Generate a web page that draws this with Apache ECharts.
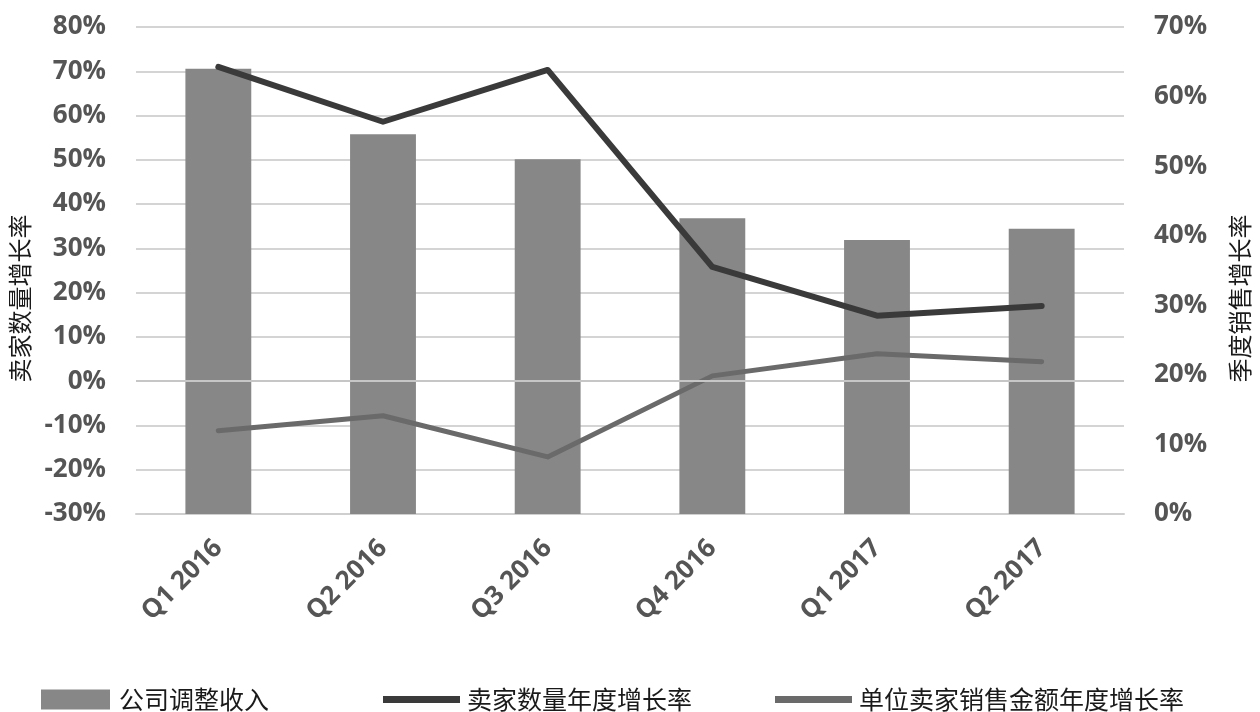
<!DOCTYPE html>
<html>
<head>
<meta charset="utf-8">
<script src="https://cdn.jsdelivr.net/npm/echarts@6/dist/echarts.min.js"></script>
<style>
html,body{margin:0;padding:0;background:#fff;}
#chart{width:1260px;height:712px;}
</style>
</head>
<body>
<div id="chart"></div>
<script>
const categories = ['Q1 2016','Q2 2016','Q3 2016','Q4 2016','Q1 2017','Q2 2017'];
const revenueGrowth = [64.0, 54.6, 51.0, 42.5, 39.4, 41.0];        // 公司调整收入 (right axis)
const sellerGrowth = [71.0, 58.6, 70.3, 25.8, 14.8, 17.0];         // 卖家数量年度增长率 (left axis)
const perSellerGrowth = [-11.2, -7.8, -17.1, 1.2, 6.2, 4.4];       // 单位卖家销售金额年度增长率 (left axis)
const leftTicks = {min: -30, max: 80, interval: 10};
const rightTicks = {min: 0, max: 70, interval: 10};
const seriesNames = ['公司调整收入','卖家数量年度增长率','单位卖家销售金额年度增长率'];

const numFont = {fontFamily: 'Open Sans', fontWeight: 'bold', fontSize: 26, color: '#555555'};
const cjkFont = {fontFamily: 'Noto Sans CJK SC', fontSize: 24, color: '#1a1a1a'};
const linePath = 'path://M0,0 L76,0 L76,7 L0,7 Z';

const chart = echarts.init(document.getElementById('chart'), null, {renderer: 'canvas'});
chart.setOption({
  animation: false,
  backgroundColor: '#ffffff',
  grid: {left: 133, right: 135, top: 27, bottom: 198, containLabel: false},
  legend: [
    {left: 36, top: 682, itemWidth: 69, itemHeight: 20, itemGap: 0,
     textStyle: Object.assign({}, cjkFont, {fontSize: 25, padding: [0,0,0,4]}),
     data: [{name: seriesNames[0], icon: 'rect'}]},
    {left: 378, top: 682, itemWidth: 77, itemHeight: 20, itemGap: 0,
     textStyle: Object.assign({}, cjkFont, {fontSize: 25, padding: [0,0,0,2]}),
     data: [{name: seriesNames[1], icon: linePath}]},
    {left: 770, top: 682, itemWidth: 77, itemHeight: 20, itemGap: 0,
     textStyle: Object.assign({}, cjkFont, {fontSize: 25, padding: [0,0,0,2]}),
     data: [{name: seriesNames[2], icon: linePath}]}
  ],
  xAxis: {
    type: 'category',
    data: categories,
    axisLine: {onZero: false, lineStyle: {color: '#cfcfcf', width: 2}},
    axisTick: {show: false},
    axisLabel: Object.assign({}, numFont, {rotate: 45, margin: 30, interval: 0})
  },
  yAxis: [
    {
      type: 'value',
      min: leftTicks.min, max: leftTicks.max, interval: leftTicks.interval,
      position: 'left',
      name: '卖家数量增长率',
      nameLocation: 'middle',
      nameRotate: 90,
      nameGap: 104,
      nameTextStyle: Object.assign({}, cjkFont, {padding: [0, 56, 0, 0]}),
      axisLine: {show: false},
      axisTick: {show: false},
      axisLabel: Object.assign({}, numFont, {margin: 30, formatter: '{value}%'}),
      splitLine: {show: true, lineStyle: {color: '#d4d4d4', width: 2}}
    },
    {
      type: 'value',
      min: rightTicks.min, max: rightTicks.max, interval: rightTicks.interval,
      position: 'right',
      name: '季度销售增长率',
      nameLocation: 'middle',
      nameRotate: 90,
      nameGap: 104,
      nameTextStyle: Object.assign({}, cjkFont, {padding: [0, 56, 0, 0]}),
      axisLine: {show: false},
      axisTick: {show: false},
      axisLabel: Object.assign({}, numFont, {margin: 30, formatter: '{value}%'}),
      splitLine: {show: false}
    }
  ],
  series: [
    {
      name: seriesNames[0],
      type: 'bar',
      yAxisIndex: 1,
      data: revenueGrowth,
      barWidth: '40%',
      itemStyle: {color: '#878787'},
      z: 2
    },
    {
      name: seriesNames[1],
      type: 'line',
      yAxisIndex: 0,
      data: sellerGrowth,
      symbol: 'none',
      color: '#3a3a3a',
      lineStyle: {color: '#3a3a3a', width: 6, join: 'round', cap: 'round'},
      z: 4
    },
    {
      name: seriesNames[2],
      type: 'line',
      yAxisIndex: 0,
      data: perSellerGrowth,
      symbol: 'none',
      color: '#6a6a6a',
      lineStyle: {color: '#6a6a6a', width: 5, join: 'round', cap: 'round'},
      markLine: {
        silent: true,
        symbol: 'none',
        label: {show: false},
        lineStyle: {color: '#c6c6c6', width: 2, type: 'solid'},
        data: [{yAxis: 0}]
      },
      z: 3
    }
  ]
});
</script>
</body>
</html>
